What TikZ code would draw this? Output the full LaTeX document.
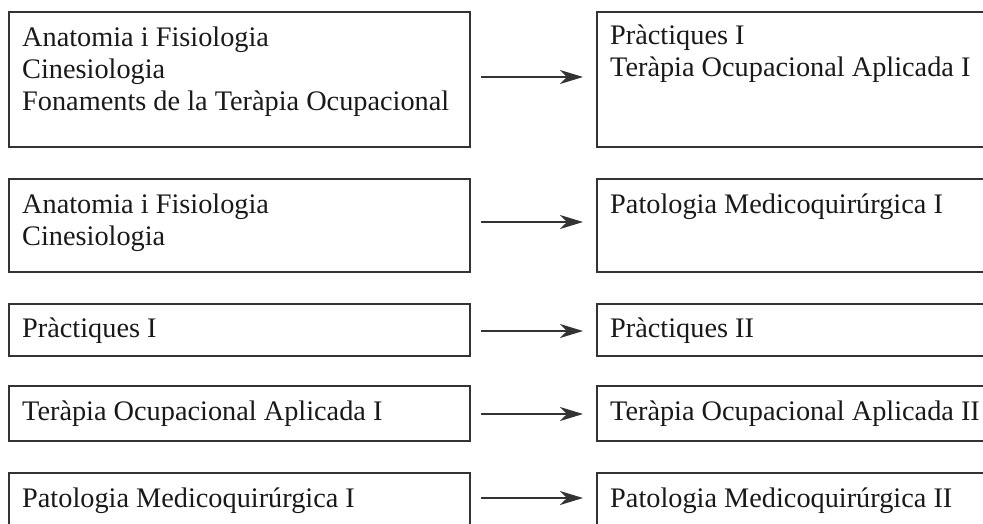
\documentclass[tikz,border=0pt]{standalone}
\usepackage{fontspec}
\setmainfont{Liberation Serif}
\usetikzlibrary{arrows.meta,calc}
\newcommand\tstrut{\rule{0pt}{22pt}}
\begin{document}
\begin{tikzpicture}[x=1pt,y=-1pt,
  box/.style={draw=black!80, line width=1.4pt, inner sep=0pt, outer sep=0pt, anchor=north west},
  txt/.style={inner sep=0pt, anchor=north west, align=left, font=\fontsize{28.3}{32}\selectfont, text=black!90},
  arr/.style={draw=black!80, line width=1.5pt, -{Stealth[length=23pt,width=14pt,inset=7pt]}}]
\useasboundingbox (0,0) rectangle (983,523);
\clip (0,0) rectangle (983,523);
% left boxes
\node[box, minimum width=461, minimum height=135] (L1) at (9,12) {};
\node[box, minimum width=461, minimum height=93] (L2) at (9,179) {};
\node[box, minimum width=461, minimum height=52] (L3) at (9,304) {};
\node[box, minimum width=461, minimum height=55] (L4) at (9,386) {};
\node[box, minimum width=461, minimum height=60] (L5) at (9,473) {};
% right boxes
\node[box, minimum width=420, minimum height=135] (R1) at (597,12) {};
\node[box, minimum width=420, minimum height=93] (R2) at (597,179) {};
\node[box, minimum width=420, minimum height=52] (R3) at (597,304) {};
\node[box, minimum width=420, minimum height=55] (R4) at (597,386) {};
\node[box, minimum width=420, minimum height=60] (R5) at (597,473) {};
% texts
\node[txt] (TL1) at ($(L1.north west)+(13,12)$) {\tstrut Anatomia i Fisiologia\\Cinesiologia\\Fonaments de la Teràpia Ocupacional};
\node[txt] (TL2) at ($(L2.north west)+(13,12)$) {\tstrut Anatomia i Fisiologia\\Cinesiologia};
\node[txt] (TL3) at ($(L3.north west)+(13,11)$) {\tstrut Pràctiques I};
\node[txt] (TL4) at ($(L4.north west)+(13,12)$) {\tstrut Teràpia Ocupacional Aplicada I};
\node[txt] (TL5) at ($(L5.north west)+(13,12)$) {\tstrut Patologia Medicoquirúrgica I};
\node[txt] (TR1) at ($(R1.north west)+(13,10)$) {\tstrut Pràctiques I\\Teràpia Ocupacional Aplicada I};
\node[txt] (TR2) at ($(R2.north west)+(13,12)$) {\tstrut Patologia Medicoquirúrgica I};
\node[txt] (TR3) at ($(R3.north west)+(13,11)$) {\tstrut Pràctiques II};
\node[txt] (TR4) at ($(R4.north west)+(13,12)$) {\tstrut Teràpia Ocupacional Aplicada II};
\node[txt] (TR5) at ($(R5.north west)+(13,12)$) {\tstrut Patologia Medicoquirúrgica II};
% arrows
\draw[arr] ($(L1.east)+(11,-2.5)$) -- ($(R1.west)+(-14,-2.5)$);
\draw[arr] ($(L2.east)+(11,-3.5)$) -- ($(R2.west)+(-14,-3.5)$);
\draw[arr] ($(L3.east)+(11,1)$) -- ($(R3.west)+(-14,1)$);
\draw[arr] ($(L4.east)+(11,0.5)$) -- ($(R4.west)+(-14,0.5)$);
\draw[arr] ($(L5.east)+(11,-5)$) -- ($(R5.west)+(-14,-5)$);
\end{tikzpicture}
\end{document}
